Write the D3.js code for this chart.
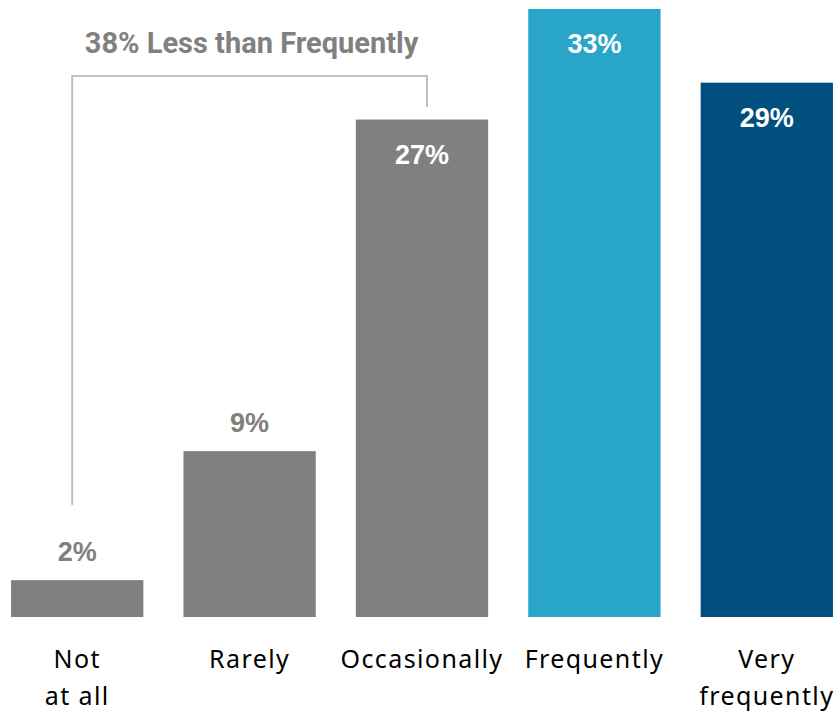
<!DOCTYPE html>
<html><head><meta charset="utf-8">
<script src="https://cdn.jsdelivr.net/npm/d3@7"></script>
<style>body{margin:0;background:#fff}</style>
</head><body>
<script>
const categories = ["Not\nat all", "Rarely", "Occasionally", "Frequently", "Very\nfrequently"];
const values = [2, 9, 27, 33, 29];
const barColors = ["#808080", "#808080", "#808080", "#29A5CA", "#004F7F"];
const labelInside = [false, false, true, true, true];
const bracketTitle = "38% Less than Frequently";
const bracketRange = ["Not\nat all", "Occasionally"];

const W = 836, H = 712;
const svg = d3.select("body").append("svg").attr("width", W).attr("height", H);

const x = d3.scaleBand().domain(categories).range([-9, 853]).paddingInner(0.2326).paddingOuter(0.1163);
const y = d3.scaleLinear().domain([0, 33]).range([617, 9]);

svg.selectAll("rect.bar").data(values).join("rect")
  .attr("x", (d, i) => x(categories[i]))
  .attr("y", d => y(d))
  .attr("width", x.bandwidth())
  .attr("height", d => y(0) - y(d))
  .attr("fill", (d, i) => barColors[i]);

svg.selectAll("text.val").data(values).join("text")
  .attr("x", (d, i) => x(categories[i]) + x.bandwidth() / 2)
  .attr("y", (d, i) => labelInside[i] ? y(d) + 44 : y(d) - 19)
  .attr("text-anchor", "middle")
  .attr("font-family", "Liberation Sans, Arial, sans-serif")
  .attr("font-weight", "bold")
  .attr("font-size", 27)
  .attr("fill", (d, i) => labelInside[i] ? "#ffffff" : "#808080")
  .text(d => d + "%");

const cat = svg.selectAll("text.cat").data(categories).join("text")
  .attr("text-anchor", "middle")
  .attr("font-family", "Noto Sans, sans-serif")
  .attr("font-size", 25)
  .attr("letter-spacing", 1.4)
  .attr("fill", "#000");
cat.each(function (c) {
  const lines = c.split("\n");
  const t = d3.select(this);
  lines.forEach((l, j) => {
    t.append("tspan").attr("x", x(c) + x.bandwidth() / 2).attr("y", 668 + j * 37).text(l);
  });
});

// bracket
const bx1 = x(bracketRange[0]) + x.bandwidth() / 2 - 5;
const bx2 = x(bracketRange[1]) + x.bandwidth() / 2 + 5;
const bTop = 76;
svg.append("path")
  .attr("d", `M${bx1},505 V${bTop} H${bx2} V107`)
  .attr("fill", "none")
  .attr("stroke", "#c0c0c0")
  .attr("stroke-width", 2);

svg.append("text")
  .attr("x", (bx1 + bx2) / 2 + 2)
  .attr("y", 53)
  .attr("text-anchor", "middle")
  .attr("font-family", "Roboto, sans-serif")
  .attr("font-weight", "bold")
  .attr("font-size", 29)
  .attr("fill", "#808080")
  .text(bracketTitle);
</script>
</body></html>
